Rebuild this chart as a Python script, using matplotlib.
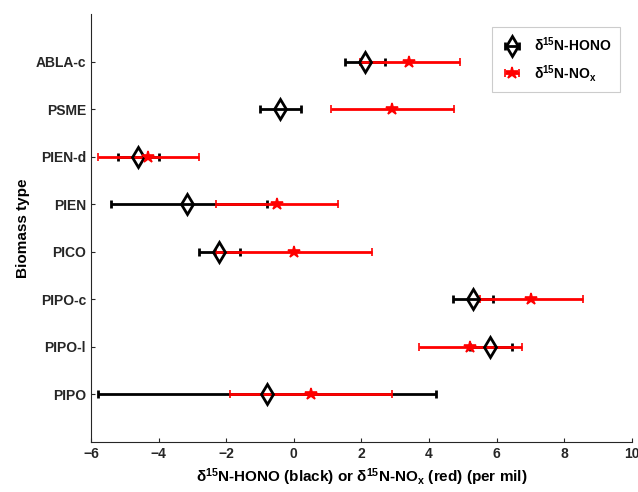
import numpy as np
import matplotlib
matplotlib.use('Agg')
import matplotlib.pyplot as plt

# Biomass types, bottom to top
biomass = ['PIPO', 'PIPO-l', 'PIPO-c', 'PICO', 'PIEN', 'PIEN-d', 'PSME', 'ABLA-c']

# d15N-HONO (black): mean, lower and upper ends of error bar
hono = [-0.8, 5.8, 5.3, -2.2, -3.15, -4.6, -0.4, 2.1]
hono_lo = [-5.8, 5.2, 4.7, -2.8, -5.4, -5.2, -1.0, 1.5]
hono_hi = [4.2, 6.45, 5.9, -1.6, -0.78, -4.0, 0.2, 2.7]

# d15N-NOx (red)
nox = [0.5, 5.2, 7.0, 0.0, -0.5, -4.3, 2.9, 3.4]
nox_lo = [-1.9, 3.7, 5.5, -2.3, -2.3, -5.8, 1.1, 1.95]
nox_hi = [2.9, 6.75, 8.55, 2.3, 1.3, -2.8, 4.75, 4.9]

plt.rcParams['font.family'] = ['Liberation Sans', 'DejaVu Sans']
plt.rcParams['font.weight'] = 'bold'
plt.rcParams['mathtext.default'] = 'regular'

fig = plt.figure(figsize=(6.38, 4.92), dpi=100)
ax = fig.add_axes([0.1426, 0.1016, 0.848, 0.8699])

y = np.arange(1, len(biomass) + 1)
hono = np.array(hono)
nox = np.array(nox)
herr = [hono - np.array(hono_lo), np.array(hono_hi) - hono]
nerr = [nox - np.array(nox_lo), np.array(nox_hi) - nox]

eb1 = ax.errorbar(hono, y, xerr=herr, fmt='d', color='k', mfc='none', mec='k',
                  ms=10, mew=2, elinewidth=2, capsize=3, capthick=2,
                  label=r'$\delta^{15}$N-HONO')
eb2 = ax.errorbar(nox, y, xerr=nerr, fmt='*', color='#ff0000', mfc='#ff0000',
                  mec='#ff0000', ms=9, mew=1.2, elinewidth=2, capsize=3,
                  capthick=2, label=r'$\delta^{15}$N-NO$_x$')

ax.set_xlim(-6, 10)
ax.set_ylim(0, 9)
ax.set_xticks(np.arange(-6, 11, 2))
ax.set_yticks(y)
ax.set_yticklabels(biomass)
ax.tick_params(direction='in', length=3, labelsize=10, colors='#262626')
for s in ['top', 'right']:
    ax.spines[s].set_visible(False)
for s in ['left', 'bottom']:
    ax.spines[s].set_color('#262626')
ax.set_xlabel(r'$\delta^{15}$N-HONO (black) or $\delta^{15}$N-NO$_x$ (red) (per mil)',
              fontsize=11, fontweight='bold')
ax.set_ylabel('Biomass type', fontsize=11, fontweight='bold')

leg = ax.legend(loc='upper right', bbox_to_anchor=(0.99, 0.985), fontsize=10,
                fancybox=False, framealpha=1, edgecolor='#cccccc',
                borderpad=0.6, labelspacing=0.6, handlelength=1.6)
leg.get_frame().set_linewidth(0.8)

fig.savefig('out.png', dpi=100)
